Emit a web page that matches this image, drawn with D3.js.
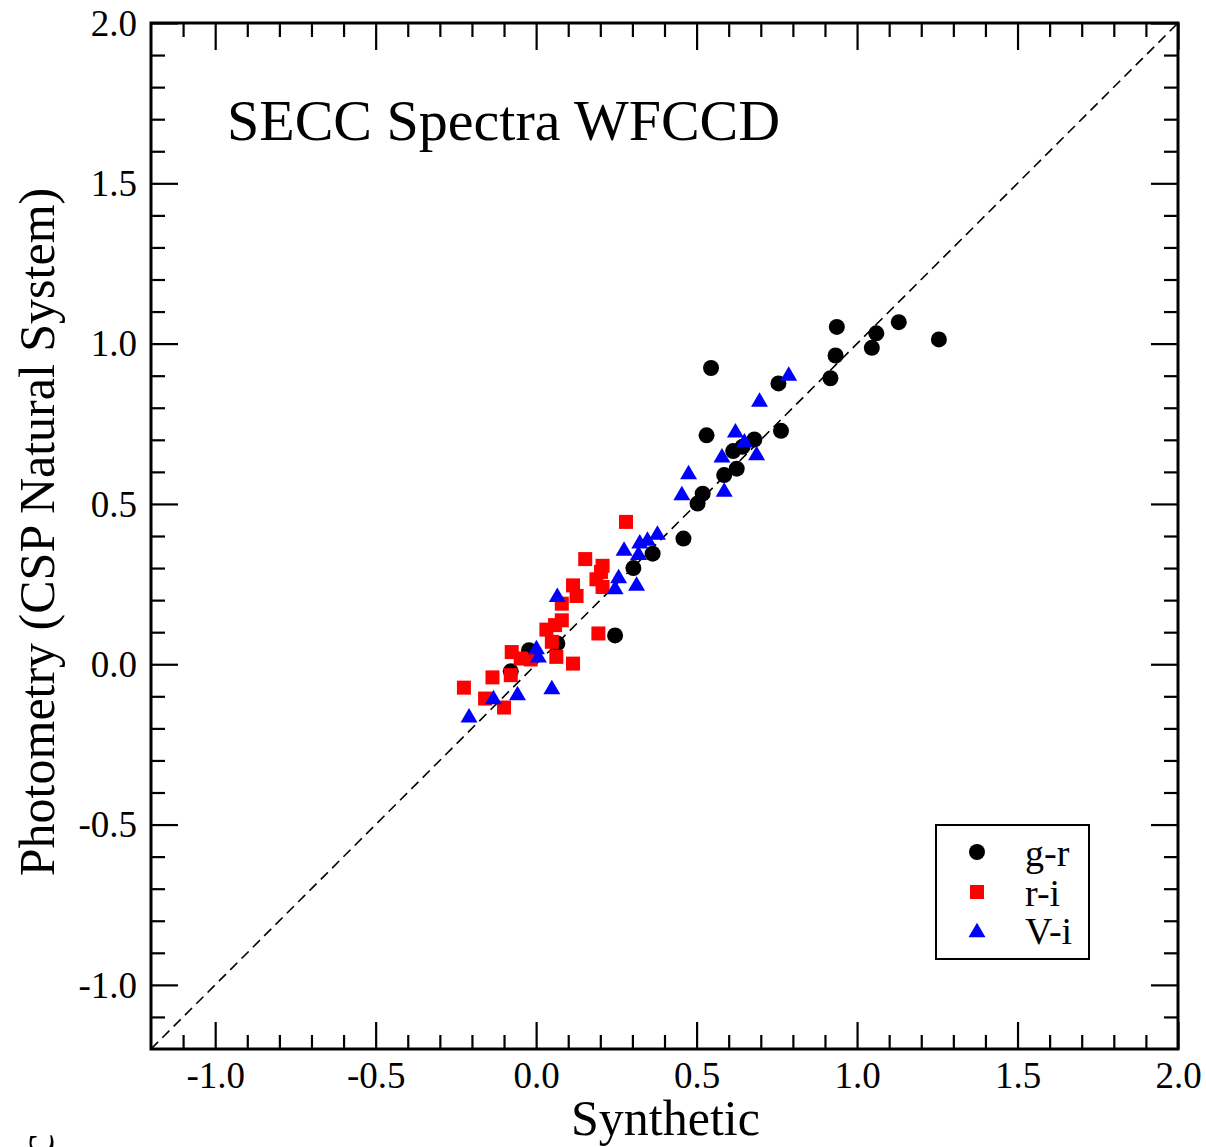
<!DOCTYPE html>
<html>
<head>
<meta charset="utf-8">
<script src="https://cdn.jsdelivr.net/npm/d3@7"></script>
<style>
  html, body { margin: 0; padding: 0; background: #fff; }
  svg { display: block; }
  text { font-family: "Liberation Serif", "Times New Roman", serif; fill: #000; }
</style>
</head>
<body>
<svg id="chart" width="1206" height="1147"></svg>
<script>
// ---- data (Synthetic x, Photometry y) ----
const grX = [1.255, 1.130, 1.060, 1.046, 0.937, 0.933, 0.917, 0.755, 0.545, 0.531, 0.763, 0.680, 0.643, 0.614, 0.625, 0.586, 0.519, 0.503, 0.459, 0.363, 0.303, 0.246, 0.066, -0.022, -0.079];
const grY = [1.013, 1.067, 1.032, 0.987, 1.052, 0.963, 0.892, 0.876, 0.924, 0.714, 0.728, 0.701, 0.678, 0.665, 0.610, 0.590, 0.532, 0.501, 0.392, 0.345, 0.300, 0.090, 0.065, 0.044, -0.022];

const riX = [0.280, 0.153, 0.207, 0.202, 0.188, 0.207, 0.115, 0.126, 0.080, 0.080, 0.059, 0.032, 0.049, 0.194, -0.076, -0.048, -0.017, 0.063, 0.115, -0.136, -0.079, -0.225, -0.159, -0.100];
const riY = [0.444, 0.328, 0.307, 0.288, 0.265, 0.241, 0.246, 0.213, 0.189, 0.137, 0.122, 0.108, 0.070, 0.096, 0.038, 0.018, 0.015, 0.023, 0.002, -0.041, -0.034, -0.073, -0.107, -0.135];

const viX = [0.787, 0.696, 0.621, 0.649, 0.687, 0.579, 0.475, 0.454, 0.586, 0.378, 0.347, 0.323, 0.274, 0.319, 0.257, 0.313, 0.246, 0.066, 0.001, 0.007, 0.049, -0.058, -0.133, -0.209];
const viY = [0.907, 0.826, 0.730, 0.699, 0.659, 0.652, 0.600, 0.534, 0.545, 0.411, 0.392, 0.384, 0.361, 0.348, 0.275, 0.252, 0.241, 0.217, 0.054, 0.028, -0.071, -0.090, -0.102, -0.159];

const seriesNames = ["g-r", "r-i", "V-i"];
const seriesColors = ["#000000", "#ff0000", "#0000ff"];
const majorTicks = [-1.0, -0.5, 0.0, 0.5, 1.0, 1.5, 2.0];
const xDomain = [-1.2, 2.0];
const yDomain = [-1.2, 2.0];
const titleText = "SECC Spectra WFCCD";
const xLabel = "Synthetic";
const yLabel = "Photometry (CSP Natural System)";

// ---- layout ----
const svg = d3.select("#chart");
const L = 151, R = 1178, T = 23, B = 1049;
const x = d3.scaleLinear().domain(xDomain).range([L, R]);
const y = d3.scaleLinear().domain(yDomain).range([B, T]);

const minorTicks = d3.range(-11, 21).map(d => d / 10).filter(v => Math.abs(Math.round(v * 10) % 5) !== 0);
const fmt = d => d.toFixed(1);

// diagonal dashed line
svg.append("line")
  .attr("x1", x(-1.2)).attr("y1", y(-1.2))
  .attr("x2", x(2.0)).attr("y2", y(2.0))
  .attr("stroke", "#000").attr("stroke-width", 1.6)
  .attr("stroke-dasharray", "10,6");

// axes with inward ticks
function styleAxis(g) {
  g.select(".domain").remove();
  g.selectAll(".tick line").attr("stroke", "#000").attr("stroke-width", 2.2);
}
const majorLen = 27, minorLen = 14;

// bottom
const gB = svg.append("g").attr("transform", `translate(0,${B})`);
gB.call(d3.axisBottom(x).tickValues(majorTicks).tickSize(-majorLen).tickFormat(fmt)).call(styleAxis);
gB.selectAll(".tick text").attr("y", 39).attr("dy", 0).style("font-size", "37px")
  .style("font-family", "'Liberation Serif', serif").attr("fill", "#000");
svg.append("g").attr("transform", `translate(0,${B})`)
  .call(d3.axisBottom(x).tickValues(minorTicks).tickSize(-minorLen).tickFormat(""))
  .call(styleAxis);
// top
svg.append("g").attr("transform", `translate(0,${T})`)
  .call(d3.axisTop(x).tickValues(majorTicks).tickSize(-majorLen).tickFormat("")).call(styleAxis);
svg.append("g").attr("transform", `translate(0,${T})`)
  .call(d3.axisTop(x).tickValues(minorTicks).tickSize(-minorLen).tickFormat("")).call(styleAxis);
// left
const gL = svg.append("g").attr("transform", `translate(${L},0)`);
gL.call(d3.axisLeft(y).tickValues(majorTicks).tickSize(-majorLen).tickFormat(fmt)).call(styleAxis);
gL.selectAll(".tick text").attr("x", -14).attr("dy", "0.33em").style("font-size", "37px")
  .style("font-family", "'Liberation Serif', serif").attr("fill", "#000");
svg.append("g").attr("transform", `translate(${L},0)`)
  .call(d3.axisLeft(y).tickValues(minorTicks).tickSize(-minorLen).tickFormat("")).call(styleAxis);
// right
svg.append("g").attr("transform", `translate(${R},0)`)
  .call(d3.axisRight(y).tickValues(majorTicks).tickSize(-majorLen).tickFormat("")).call(styleAxis);
svg.append("g").attr("transform", `translate(${R},0)`)
  .call(d3.axisRight(y).tickValues(minorTicks).tickSize(-minorLen).tickFormat("")).call(styleAxis);

// frame
svg.append("rect").attr("x", L).attr("y", T).attr("width", R - L).attr("height", B - T)
  .attr("fill", "none").attr("stroke", "#000").attr("stroke-width", 3);

// markers
const triW = 17, triH = 14.5, sq = 14, cr = 8;
function drawMarker(sel, type, color) {
  if (type === 0) {
    sel.append("circle").attr("r", cr).attr("fill", color);
  } else if (type === 1) {
    sel.append("rect").attr("x", -sq / 2).attr("y", -sq / 2).attr("width", sq).attr("height", sq).attr("fill", color);
  } else {
    sel.append("path").attr("d", `M0,${-triH / 2}L${triW / 2},${triH / 2}L${-triW / 2},${triH / 2}Z`).attr("fill", color);
  }
}
const seriesData = [
  d3.zip(grX, grY),
  d3.zip(riX, riY),
  d3.zip(viX, viY)
];
seriesData.forEach((pts, i) => {
  const g = svg.append("g").attr("class", "series-" + i);
  pts.forEach(p => {
    const m = g.append("g").attr("transform", `translate(${x(p[0])},${y(p[1])})`);
    drawMarker(m, i, seriesColors[i]);
  });
});

// title
svg.append("text").attr("x", 227).attr("y", 140).style("font-size", "58px").text(titleText);

// axis labels
svg.append("text").attr("x", (L + R) / 2 + 1).attr("y", 1135).attr("text-anchor", "middle")
  .style("font-size", "50px").text(xLabel);
svg.append("text").attr("transform", `translate(54,${532}) rotate(-90)`).attr("text-anchor", "middle")
  .style("font-size", "50px").text(yLabel);

// cut-off fragment at the lower left
svg.append("text").attr("transform", "translate(53,1156) rotate(-90)").style("font-size", "50px").text("c");

// legend
const lg = svg.append("g");
lg.append("rect").attr("x", 936).attr("y", 825).attr("width", 153).attr("height", 134)
  .attr("fill", "#fff").attr("stroke", "#000").attr("stroke-width", 2);
const rowsY = [852, 892, 930];
seriesNames.forEach((name, i) => {
  const m = lg.append("g").attr("transform", `translate(977,${rowsY[i]})`);
  drawMarker(m, i, seriesColors[i]);
  lg.append("text").attr("x", 1025).attr("y", rowsY[i] + 14).style("font-size", "38px").text(name);
});
</script>
</body>
</html>
